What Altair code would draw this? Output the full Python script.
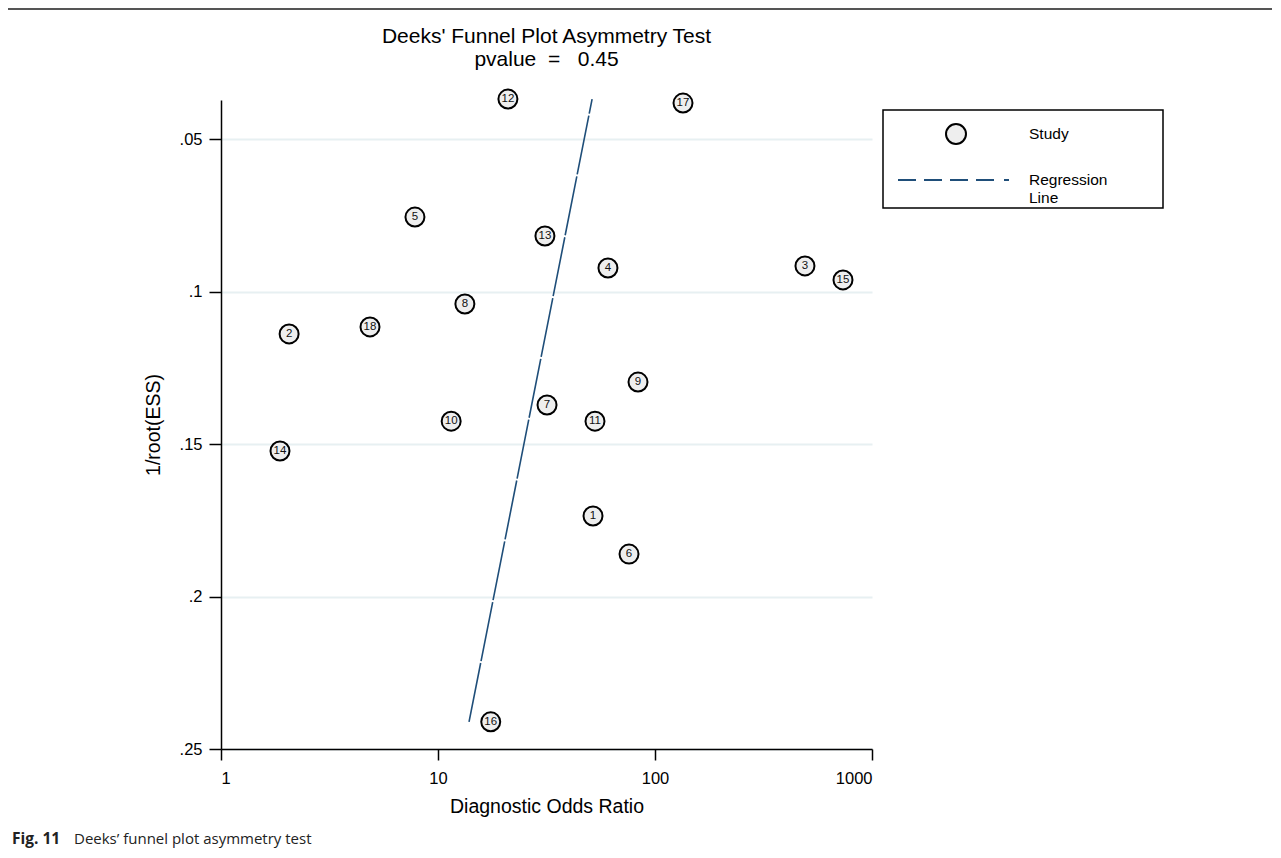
import altair as alt
import pandas as pd

# ---- data ----
study_id = [1, 2, 3, 4, 5, 6, 7, 8, 9, 10, 11, 12, 13, 14, 15, 16, 17, 18]
dor = [51.8, 2.06, 491, 60.7, 7.83, 75.9, 31.8, 13.3, 83.5, 11.5, 52.9, 21.0,
       31.1, 1.87, 735, 17.5, 134.6, 4.86]
inv_root_ess = [0.1736, 0.1139, 0.0916, 0.0923, 0.0756, 0.1861, 0.1372, 0.1041,
                0.1297, 0.1425, 0.1425, 0.0369, 0.0818, 0.1523, 0.0962, 0.2411,
                0.0382, 0.1116]
reg_dor = [13.9, 51.3]
reg_y = [0.2411, 0.0369]
x_ticks = [1, 10, 100, 1000]
y_ticks = [0.05, 0.1, 0.15, 0.2, 0.25]
legend_items = ["Study", "Regression Line"]
title_lines = ["Deeks' Funnel Plot Asymmetry Test", "pvalue\u00a0\u00a0=\u00a0\u00a0\u00a00.45"]
caption_bold = "Fig. 11"
caption_text = "Deeks\u2019 funnel plot asymmetry test"

df = pd.DataFrame({"study": study_id, "dor": dor, "y": inv_root_ess,
                   "kind": ["Study"] * len(study_id)})
reg = pd.DataFrame({"dor": reg_dor, "y": reg_y})

FONT = "Liberation Sans"
NAVY = "#1F4E79"
dash_path = "M-5.8,0H-4M-3.2,0H-1.4M-0.6,0H1.2M2,0H3.8M4.8,0H5.3"

xscale = alt.Scale(type="log", domain=[1, 1000])
yscale = alt.Scale(domain=[0.0372, 0.25], reverse=True, zero=False, nice=False)

xaxis = alt.Axis(values=x_ticks, title="Diagnostic Odds Ratio", format="d",
                 grid=False, tickSize=11, labelPadding=10, titlePadding=11)
yaxis = alt.Axis(values=y_ticks, title="1/root(ESS)",
                 labelExpr="substring(format(datum.value, '.2~f'), 1)",
                 grid=True, gridColor="#E7F0F2", gridWidth=2, tickSize=12,
                 labelPadding=7, titlePadding=16)

leg = alt.Legend(orient="none", legendX=662, legendY=13, title=None,
                 labelFont=FONT, labelFontSize=15.5, labelColor="black",
                 symbolSize=400, symbolStrokeWidth=2, symbolOffset=52,
                 labelOffset=62, rowPadding=21, padding=10,
                 labelExpr="datum.label == 'Regression Line' ? ['Regression', 'Line'] : datum.label")

base = alt.Chart(df)

points = base.mark_point(filled=True, size=361, strokeWidth=2, opacity=1).encode(
    x=alt.X("dor:Q", scale=xscale, axis=xaxis),
    y=alt.Y("y:Q", scale=yscale, axis=yaxis),
    shape=alt.Shape("kind:N", scale=alt.Scale(domain=legend_items, range=["circle", dash_path]), legend=leg),
    fill=alt.Fill("kind:N", scale=alt.Scale(domain=legend_items, range=["#EEEEEE", "transparent"]), legend=leg),
    stroke=alt.Stroke("kind:N", scale=alt.Scale(domain=legend_items, range=["#000000", NAVY]), legend=leg),
)

labels = base.mark_text(font=FONT, fontSize=11.5, align="center", baseline="middle", color="#111111").encode(
    x=alt.X("dor:Q", scale=xscale),
    y=alt.Y("y:Q", scale=yscale),
    text="study:N",
)

line = alt.Chart(reg).mark_line(color=NAVY, strokeWidth=1.6, strokeDash=[60, 2]).encode(
    x=alt.X("dor:Q", scale=xscale),
    y=alt.Y("y:Q", scale=yscale),
)

one = pd.DataFrame({"k": [0]})
cap1 = alt.Chart(one).mark_text(font="Open Sans", fontSize=15.5, fontWeight="bold", align="left",
                                baseline="middle", color="#222").encode(
    x=alt.value(-209), y=alt.value(739), text=alt.value(caption_bold))
cap2 = alt.Chart(one).mark_text(font="Open Sans", fontSize=15, align="left",
                                baseline="middle", color="#222").encode(
    x=alt.value(-147), y=alt.value(739), text=alt.value(caption_text))
topline = alt.Chart(one).mark_rule(color="#555555", strokeWidth=2).encode(
    x=alt.value(-213), x2=alt.value(1060), y=alt.value(-91))
legend_box = alt.Chart(one).mark_rect(fill="white", stroke="black", strokeWidth=1.5).encode(
    x=alt.value(662), x2=alt.value(942), y=alt.value(10), y2=alt.value(108))

chart = alt.layer(topline, legend_box, line, points, labels, cap1, cap2).properties(
    width=651, height=649, background="white",
    title=alt.Title(title_lines, font=FONT, fontSize=21, fontWeight="normal",
                    color="black", anchor="middle", offset=0, dy=62, lineHeight=23,
                    frame="group"),
    padding={"left": 213, "top": 92, "right": 400, "bottom": 99},
    autosize=alt.AutoSizeParams(type="none"),
).configure_view(stroke=None).configure_axis(
    domainColor="black", domainWidth=1.5, tickColor="black", tickWidth=1.5,
    labelFont=FONT, labelFontSize=16.5, labelColor="black",
    titleFont=FONT, titleFontSize=19.5, titleFontWeight="normal", titleColor="black",
)

chart.save("out.html", embed_options={"renderer": "svg", "actions": False})
